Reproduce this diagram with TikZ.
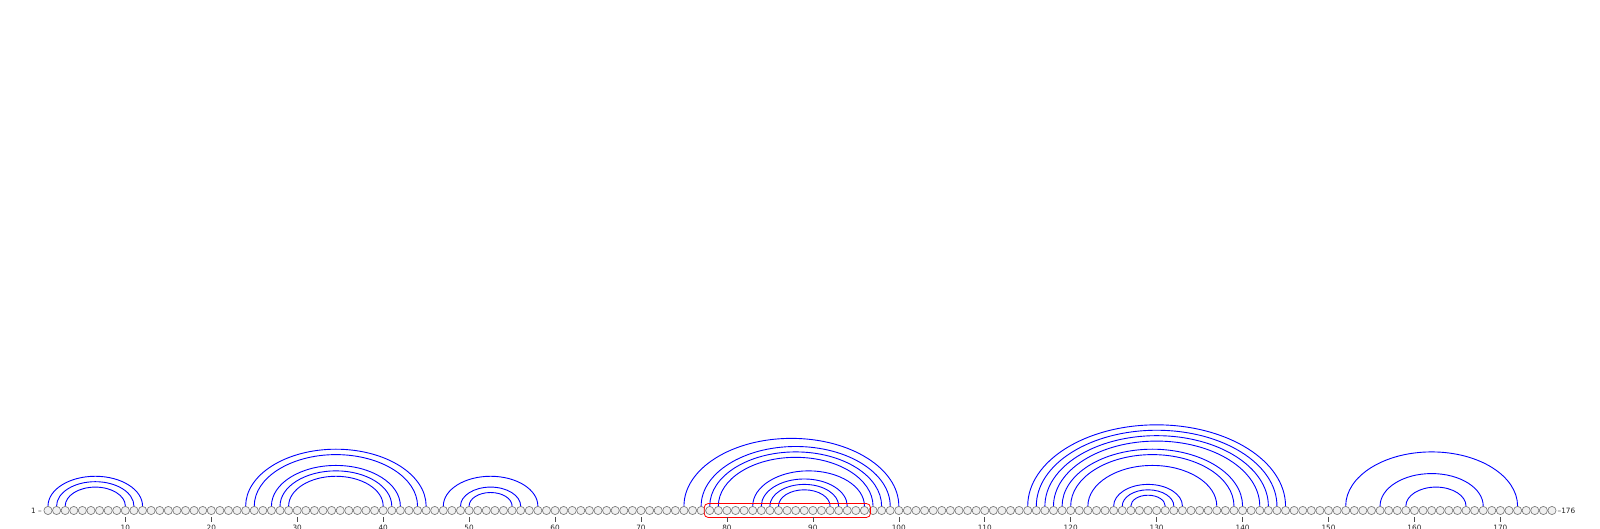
\documentclass[tikz,border=0pt]{standalone}
\usepackage{fontspec}
\setmainfont{DejaVu Sans}
\usetikzlibrary{calc}
\begin{document}
\begin{tikzpicture}[x=1pt,y=1pt,
  nt/.style={circle,draw=black!50,fill=black!6,line width=0.7pt,minimum size=8.2pt,inner sep=0pt},
  pairarc/.style={draw=blue,line width=0.9pt},
  ticmark/.style={draw=black!70,line width=0.6pt},
  lbl/.style={font=\fontsize{7.3}{8}\selectfont,inner sep=0pt,text=black!85},
  hilite/.style={draw=red,line width=0.8pt,rounded corners=4pt}]
\useasboundingbox (0,0) rectangle (1600,529);
\foreach \i in {1,...,176} \node[nt] (n\i) at ({48+(\i-1)*8.594},18.5) {};
\foreach \a/\b in {1/12,2/11,3/10,24/45,25/44,27/42,28/41,29/40,47/58,49/56,50/55,
  75/100,77/99,78/98,79/97,83/96,84/94,85/93,86/92,
  115/145,116/144,117/143,118/142,119/140,120/139,122/137,125/133,126/132,127/131,
  152/172,156/168,159/166}
  \draw[pairarc] let \p1=(n\a.north), \p2=(n\b.north), \n1={(\x2-\x1)/2} in
    (\p1) arc[start angle=180,end angle=0,x radius=\n1,y radius=0.63*\n1];
\draw[hilite] ($(n78.center)+(-5.5,-7)$) rectangle ($(n96.center)+(6,7)$);
\foreach \t in {10,20,...,170} {
  \draw[ticmark] ($(n\t)+(0,-6.5)$) -- ($(n\t)+(0,-11.5)$);
  \node[lbl,anchor=north] (t\t) at ($(n\t)+(0,-14)$) {\t};
}
\node[lbl,anchor=east] (l1) at ($(n1.west)+(-1.5,0)$) {1 –};
\node[lbl,anchor=west] (l176) at ($(n176.east)+(1,0)$) {–176};
\end{tikzpicture}
\end{document}
